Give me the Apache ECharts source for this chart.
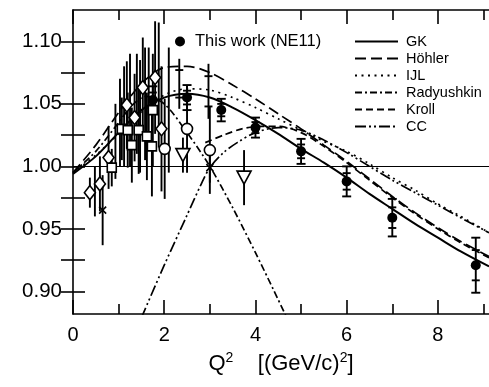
<!DOCTYPE html>
<html>
<head>
<meta charset="utf-8">
<script src="https://cdn.jsdelivr.net/npm/echarts@6/dist/echarts.min.js"></script>
<style>
  html, body { margin: 0; padding: 0; background: #fff; }
  #chart { width: 489px; height: 387px; }
</style>
</head>
<body>
<div id="chart"></div>
<script>
// axis ranges and ticks
const X_MIN = 0;
const X_MAX = 9.12;
const Y_MIN = 0.882;
const Y_MAX = 1.125;
const xLabelValues = [0, 2, 4, 6, 8];
const xMinorTicks = [1, 3, 5, 7, 9];
const yLabelValues = [0.9, 0.95, 1.0, 1.05, 1.1];
const yTickValues = [0.9, 0.925, 0.95, 0.975, 1.0, 1.025, 1.05, 1.075, 1.1];

// model curves
const curveX = [0, 0.5, 1, 1.5, 2, 2.5, 3, 3.5, 4, 4.5, 5, 5.5, 6, 6.5, 7, 7.5, 8, 8.5, 9.12];
const gkY = [0.994, 1.008, 1.027, 1.045, 1.055, 1.058, 1.055, 1.047, 1.037, 1.026, 1.014, 1.003, 0.991, 0.978, 0.966, 0.954, 0.943, 0.932, 0.920];
const hohlerY = [0.995, 1.017, 1.043, 1.066, 1.079, 1.080, 1.075, 1.065, 1.054, 1.042, 1.030, 1.017, 1.004, 0.990, 0.976, 0.963, 0.951, 0.940, 0.928];
const ijlY = [0.995, 1.009, 1.026, 1.043, 1.057, 1.062, 1.061, 1.055, 1.047, 1.038, 1.029, 1.020, 1.012, 1.002, 0.991, 0.981, 0.970, 0.960, 0.947];

const radX = [0, 0.5, 1, 1.3, 1.6, 2, 2.5, 3, 3.5, 4, 4.4, 4.7];
const radY = [0.995, 1.012, 1.035, 1.049, 1.056, 1.050, 1.027, 1.000, 0.967, 0.931, 0.901, 0.878];

const krollX = [2.9, 3.3, 3.7, 4.1, 4.5, 5, 5.5, 6, 6.5, 7, 7.5, 8, 8.5, 9.12];
const krollY = [1.019, 1.025, 1.030, 1.032, 1.032, 1.027, 1.016, 1.003, 0.989, 0.975, 0.962, 0.950, 0.939, 0.927];

const ccX = [1.5, 2, 2.5, 2.8, 3, 3.3, 3.6, 4, 4.5, 5, 5.5, 6, 6.5, 7, 7.5, 8, 8.5, 9.12];
const ccY = [0.879, 0.921, 0.961, 0.985, 0.999, 1.011, 1.019, 1.027, 1.031, 1.029, 1.021, 1.011, 1.000, 0.989, 0.979, 0.969, 0.959, 0.947];

// this work (NE11)
const ne11X = [1.75, 2.5, 3.25, 4.0, 5.0, 6.0, 7.0, 8.83];
const ne11Y = [1.053, 1.055, 1.045, 1.031, 1.012, 0.988, 0.959, 0.921];
const ne11Err = [0.011, 0.010, 0.009, 0.008, 0.010, 0.012, 0.015, 0.022];

// older data sets
const diamondX = [0.37, 0.59, 0.78, 1.18, 1.35, 1.53, 1.80, 1.94];
const diamondY = [0.979, 0.986, 1.007, 1.049, 1.039, 1.063, 1.071, 1.030];
const diamondErr = [0.012, 0.022, 0.025, 0.035, 0.035, 0.040, 0.045, 0.050];

const squareX = [0.85, 1.07, 1.20, 1.29, 1.44, 1.62, 1.73, 1.75];
const squareY = [0.999, 1.030, 1.029, 1.017, 1.029, 1.024, 1.016, 1.045];
const squareErr = [0.015, 0.025, 0.030, 0.030, 0.035, 0.035, 0.040, 0.045];

const circleX = [2.01, 2.5, 3.0];
const circleY = [1.014, 1.030, 1.013];
const circleErr = [0.040, 0.035, 0.035];

const triangleX = [2.41, 3.75];
const triangleY = [1.009, 0.991];
const triangleErr = [0.014, 0.022];

const crossX = [0.65, 3.0];
const crossY = [0.965, 0.999];
const crossErr = [0.028, 0.012];

const plusX = [2.33, 2.97];
const plusY = [1.066, 1.060];
const plusErr = [0.020, 0.022];

// error bars whose markers are hidden in the crowd
const bareX = [0.48, 0.93, 1.03, 1.12, 1.25, 1.40, 1.47, 1.58, 1.66, 1.88, 2.10];
const bareY = [0.980, 1.020, 1.035, 1.040, 1.045, 1.050, 1.040, 1.050, 1.055, 1.065, 1.045];
const bareErr = [0.020, 0.030, 0.035, 0.040, 0.045, 0.040, 0.045, 0.045, 0.040, 0.050, 0.050];

const FONT = "'Liberation Sans', Arial, Helvetica, sans-serif";

const zip = (xs, ys) => xs.map((x, i) => [x, ys[i]]);
const zip3 = (xs, ys, es) => xs.map((x, i) => [x, ys[i], es[i]]);

function curve(name, xs, ys, type, width) {
  return {
    name,
    type: "line",
    data: zip(xs, ys),
    smooth: 0.3,
    symbol: "none",
    clip: true,
    z: 2,
    itemStyle: { color: "#000", opacity: 0 },
    lineStyle: { color: "#000", width: width || 1.7, type, cap: "butt" },
  };
}

function errorBars(rows, capW, innerW) {
  return {
    type: "custom",
    silent: true,
    clip: true,
    z: 3,
    data: rows,
    renderItem(params, api) {
      const x = api.value(0);
      const y = api.value(1);
      const e = api.value(2);
      const top = api.coord([x, y + e]);
      const bot = api.coord([x, y - e]);
      const style = { stroke: "#000", lineWidth: 1.9 };
      const children = [
        { type: "line", shape: { x1: top[0], y1: top[1], x2: bot[0], y2: bot[1] }, style },
      ];
      if (capW) {
        [top, bot].forEach((p) => {
          children.push({
            type: "line",
            shape: { x1: p[0] - capW / 2, y1: p[1], x2: p[0] + capW / 2, y2: p[1] },
            style,
          });
        });
      }
      if (innerW) {
        [api.coord([x, y + e * 0.55]), api.coord([x, y - e * 0.55])].forEach((p) => {
          children.push({
            type: "line",
            shape: { x1: p[0] - innerW / 2, y1: p[1], x2: p[0] + innerW / 2, y2: p[1] },
            style,
          });
        });
      }
      return { type: "group", children };
    },
  };
}

function markers(name, xs, ys, symbol, size, filled, rotate) {
  return {
    name,
    type: "scatter",
    data: zip(xs, ys),
    symbol,
    symbolSize: size,
    symbolRotate: rotate || 0,
    z: 5,
    itemStyle: {
      opacity: 1,
      color: filled ? "#000" : "#fff",
      borderColor: "#000",
      borderWidth: filled ? 0 : 1.6,
    },
  };
}

const axisColor = { color: "#000", width: 1.6 };

function xAxisDef(position, ticks, len, showLine, labels) {
  return {
    type: "value",
    min: X_MIN,
    max: X_MAX,
    position,
    axisLine: { show: showLine, onZero: false, lineStyle: axisColor },
    axisTick: { show: true, inside: true, length: len, customValues: ticks, lineStyle: axisColor },
    axisLabel: labels
      ? { show: true, customValues: xLabelValues, fontSize: 20, fontFamily: FONT, color: "#000", margin: 11 }
      : { show: false },
    splitLine: { show: false },
  };
}

const chart = echarts.init(document.getElementById("chart"), null, { renderer: "canvas" });

const bottomAxis = xAxisDef("bottom", xMinorTicks, 10, true, true);
bottomAxis.name = "Q{s|2}    [(GeV/c){s|2}]";
bottomAxis.nameLocation = "middle";
bottomAxis.nameGap = 37;
bottomAxis.nameTextStyle = {
  fontSize: 22,
  fontFamily: FONT,
  color: "#000",
  rich: { s: { fontSize: 14, fontFamily: FONT, color: "#000", padding: [0, 0, 11, 0] } },
};

const gk = curve("GK", curveX, gkY, "solid", 2);
gk.markLine = {
  silent: true,
  symbol: "none",
  label: { show: false },
  lineStyle: { color: "#000", width: 1.1, type: "solid" },
  data: [{ yAxis: 1 }],
};

chart.setOption({
  animation: false,
  backgroundColor: "#fff",
  grid: { left: 73, top: 10, width: 416, height: 304 },
  xAxis: [
    bottomAxis,
    xAxisDef("bottom", xLabelValues, 14, false, false),
    xAxisDef("top", xMinorTicks, 10, true, false),
    xAxisDef("top", xLabelValues, 14, false, false),
  ],
  yAxis: [
    {
      type: "value",
      min: Y_MIN,
      max: Y_MAX,
      position: "left",
      axisLine: { show: true, onZero: false, lineStyle: axisColor },
      axisTick: { inside: true, length: 12, customValues: yTickValues, lineStyle: axisColor },
      axisLabel: {
        customValues: yLabelValues,
        formatter: (v) => v.toFixed(2),
        fontSize: 20.5,
        fontFamily: FONT,
        color: "#000",
        margin: 11,
      },
      splitLine: { show: false },
    },
    {
      type: "value",
      min: Y_MIN,
      max: Y_MAX,
      position: "right",
      axisLine: { show: false },
      axisTick: { inside: true, length: 12, customValues: yTickValues, lineStyle: axisColor },
      axisLabel: { show: false },
      splitLine: { show: false },
    },
  ],
  legend: [
    {
      orient: "vertical",
      left: 354,
      top: 34,
      itemWidth: 43,
      itemHeight: 12,
      itemGap: 2,
      padding: 0,
      data: ["GK", "Höhler", "IJL", "Radyushkin", "Kroll", "CC"],
      itemStyle: { opacity: 0 },
      textStyle: { fontSize: 14.5, fontFamily: FONT, color: "#000", padding: [0, 0, 0, 3] },
      selectedMode: false,
    },
    {
      left: 175,
      top: 33,
      padding: 0,
      itemWidth: 10,
      itemHeight: 10,
      data: [{ name: "This work (NE11)", icon: "circle" }],
      textStyle: { fontSize: 16.5, fontFamily: FONT, color: "#000", padding: [0, 0, 0, 5] },
      selectedMode: false,
    },
  ],
  series: [
    gk,
    curve("Höhler", curveX, hohlerY, [11, 5]),
    curve("IJL", curveX, ijlY, [2, 4.5]),
    curve("Radyushkin", radX, radY, [7, 3, 2, 3]),
    curve("Kroll", krollX, krollY, [7, 4]),
    curve("CC", ccX, ccY, [11, 3, 2, 3, 2, 3]),
    errorBars(zip3(bareX, bareY, bareErr)),
    errorBars(zip3(diamondX, diamondY, diamondErr)),
    errorBars(zip3(squareX, squareY, squareErr)),
    errorBars(zip3(circleX, circleY, circleErr)),
    errorBars(zip3(triangleX, triangleY, triangleErr)),
    errorBars(zip3(crossX, crossY, crossErr)),
    errorBars(zip3(plusX, plusY, plusErr), 0, 8),
    errorBars(zip3(ne11X, ne11Y, ne11Err), 9, 8),
    markers("diamonds", diamondX, diamondY, "diamond", [11, 14], false),
    markers("squares", squareX, squareY, "rect", 9, false),
    markers("circles", circleX, circleY, "circle", 11, false),
    markers("triangles", triangleX, triangleY, "triangle", [14, 13], false, 180),
    markers("crosses", crossX, crossY, "path://M0,0L10,10M10,0L0,10", 7, false),
    markers("This work (NE11)", ne11X, ne11Y, "circle", 10, true),
  ],
});
</script>
</body>
</html>
